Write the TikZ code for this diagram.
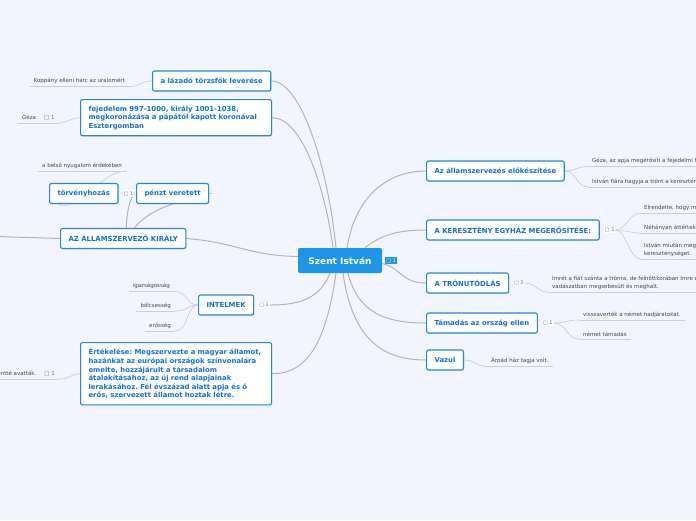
\documentclass[tikz,border=0pt]{standalone}
\usepackage{fontspec}
\setmainfont{DejaVu Sans}
\frenchspacing
\usetikzlibrary{positioning, shadows}
\definecolor{paper}{RGB}{242,245,253}
\definecolor{boxline}{RGB}{38,132,226}
\definecolor{boxtext}{RGB}{20,112,215}
\definecolor{hubblue}{RGB}{30,150,232}
\definecolor{branchgray}{RGB}{180,180,180}
\definecolor{twiggray}{RGB}{206,206,210}
\definecolor{leaftext}{RGB}{70,70,70}
\definecolor{badgetext}{RGB}{80,110,160}
\pgfdeclarelayer{bg}
\pgfdeclarelayer{links}
\pgfsetlayers{bg,links,main}

\begin{document}
\begin{tikzpicture}[x=1pt, y=-1pt,
  box/.style={draw=boxline, line width=1.1pt, fill=white, rounded corners=2pt, text=boxtext,
    font=\fontsize{6.9}{8.6}\selectfont\bfseries, inner xsep=8pt, inner ysep=6pt, minimum height=20pt,
    drop shadow={opacity=0.12, shadow xshift=0.8pt, shadow yshift=-0.8pt}},
  hub/.style={fill=hubblue, rounded corners=2pt, text=white, font=\fontsize{9}{11}\selectfont\bfseries,
    minimum width=84pt, minimum height=25pt},
  leaf/.style={text=leaftext, font=\fontsize{5.5}{7.6}\selectfont, inner xsep=4pt, inner ysep=2.5pt, align=left},
  badge/.style={fill=white, text=badgetext, font=\fontsize{5}{6}\selectfont, inner sep=1pt},
  branch/.style={draw=branchgray, line width=1pt},
  twig/.style={draw=twiggray, line width=0.7pt}]
  \useasboundingbox (0,0) rectangle (696,520);
  \begin{pgfonlayer}{bg}
    \fill[paper] (0,0) rectangle (696,520);
  \end{pgfonlayer}
  \clip (0,0) rectangle (696,520);

  % centre
  \node[hub] (szent) at (340,260.5) {Szent István};
  \node[badge, fill=hubblue, text=white, right=3pt of szent] (szentB) {□ 1};

  % left side
  \node[box, anchor=west] (lazado) at (152,81) {a lázadó törzsfők leverése};
  \node[box, anchor=north west, text width=175pt, align=left] (fejedelem) at (80,99)
    {fejedelem 997-1000, király 1001-1038,\\megkoronázása a pápától kapott koronával\\Esztergomban};
  \node[box, anchor=west] (torveny) at (49,193.5) {törvényhozás};
  \node[badge, right=4pt of torveny] (torvenyB) {□ 1};
  \node[box, anchor=west] (penz) at (136,193.5) {pénzt veretett};
  \node[box, anchor=west] (kiraly) at (60,238.5) {AZ ÁLLAMSZERVEZŐ KIRÁLY};
  \node[box, anchor=west] (intelmek) at (198,305) {INTELMEK};
  \node[badge, right=4pt of intelmek] (intelmekB) {□ 1};
  \node[box, anchor=north west, text width=175pt, align=left] (ertekeles) at (80,342)
    {Értékelése: Megszervezte a magyar államot,\\hazánkat az európai országok színvonalára\\emelte, hozzájárult a társadalom\\átalakításához, az új rend alapjainak\\lerakásához. Fél évszázad alatt apja és ő\\erős, szervezett államot hoztak létre.};

  % right side
  \node[box, anchor=west] (elokeszites) at (426,171) {Az államszervezés előkészítése};
  \node[box, anchor=west] (egyhaz) at (426,230) {A KERESZTÉNY EGYHÁZ MEGERŐSÍTÉSE:};
  \node[badge, right=4pt of egyhaz] (egyhazB) {□ 1};
  \node[box, anchor=west] (tronut) at (426,283) {A TRÓNUTÓDLÁS};
  \node[badge, right=4pt of tronut] (tronutB) {□ 2};
  \node[box, anchor=west] (tamadas) at (426,323) {Támadás az ország ellen};
  \node[badge, right=4pt of tamadas] (tamadasB) {□ 1};
  \node[box, anchor=west] (vazul) at (426,360) {Vazul};

  % leaves
  \node[leaf, anchor=south east] (kopp) at (129,86.5) {Koppány elleni harc az uralomért};
  \node[leaf, anchor=south west] (geza) at (18,123) {Géza\hspace{8pt}{\color{badgetext}□ 1}};
  \node[leaf, anchor=south west] (nyugalom) at (38,171) {a belső nyugalom érdekében};
  \node[leaf, anchor=south east] (igazsag) at (174,291.5) {igazságosság};
  \node[leaf, anchor=south east] (bolcs) at (175,311) {bölcsesség};
  \node[leaf, anchor=south east] (eros) at (175,331) {erősség};
  \node[leaf, anchor=south east] (avatt) at (59,379) {Halála után szentté avatták.\hspace{8pt}{\color{badgetext}□ 1}};
  \node[leaf, anchor=south west] (gezaR) at (588,166.5) {Géza, az apja megerősíti a fejedelmi hatalmat.};
  \node[leaf, anchor=south west] (istvanR) at (588,187) {István fiára hagyja a trónt a kereszténység érdekében.};
  \node[leaf, anchor=south west] (elrendelte) at (640,213) {Elrendelte, hogy minden tíz falu templomot építsen.};
  \node[leaf, anchor=south west] (nehanyan) at (640,233) {Néhányan áttértek a keresztény hitre.};
  \node[leaf, anchor=south west] (megker) at (640,259) {István miután megkeresztelkedett, terjesztette a\\kereszténységet.};
  \node[leaf, anchor=south west] (imret) at (548,292) {Imrét a fiát szánta a trónra, de felnőttkorában Imre egy\\vadászatban megsebesült és meghalt.};
  \node[leaf, anchor=south west] (visszavert) at (579,320) {visszaverték a német hadjáratokat.};
  \node[leaf, anchor=south west] (nemet) at (579,339) {német támadás};
  \node[leaf, anchor=south west] (arpad) at (487,366.5) {Árpád ház tagja volt.};

  \coordinate (kiralyOff) at (-20,236);
  \coordinate (penzEnd) at (213,193.5);

  \begin{pgfonlayer}{links}
    % branches from the centre
    \draw[branch] ([xshift=-4pt]szent.north) .. controls +(-8,-80) and +(30,0) .. (lazado.east);
    \draw[branch] ([xshift=-7pt]szent.north) .. controls +(-8,-60) and +(30,0) .. (fejedelem.east);
    \draw[branch] ([yshift=4pt]szent.west) .. controls +(-50,-1) and +(50,4) .. (kiraly.east);
    \draw[branch] ([xshift=-10pt]szent.south) .. controls +(-10,25) and +(30,0) .. (intelmekB.east);
    \draw[branch] ([xshift=-4pt]szent.south) .. controls +(-10,70) and +(35,0) .. (ertekeles.east);
    \draw[branch] ([xshift=7pt]szent.north) .. controls +(8,-50) and +(-40,0) .. (elokeszites.west);
    \draw[branch] ([xshift=25pt]szent.north) .. controls +(15,-12) and +(-30,0) .. (egyhaz.west);
    \draw[branch] ([yshift=-3pt]szent.east) .. controls +(20,5) and +(-25,0) .. (tronut.west);
    \draw[branch] ([xshift=8pt]szent.south) .. controls +(10,40) and +(-40,0) .. (tamadas.west);
    \draw[branch] ([xshift=3pt]szent.south) .. controls +(10,70) and +(-40,0) .. (vazul.west);

    % under the king
    \draw[branch] (kiraly.west) -- (kiralyOff);
    \draw[branch] ([xshift=3pt]kiraly.north) .. controls +(1,-20) and +(-4,5) .. (torvenyB.east);
    \draw[branch] ([xshift=11pt]kiraly.north) .. controls +(12,-14) and +(-12,4) .. (penz.south);
    \draw[twig] (penz.east) -- (penzEnd);

    % leaf underlines
    \foreach \lf in {kopp,geza,nyugalom,igazsag,bolcs,eros,avatt,gezaR,istvanR,elrendelte,nehanyan,megker,imret,visszavert,nemet,arpad}
      \draw[twig] (\lf.south west) -- (\lf.south east);

    % leaf connectors
    \draw[twig] (kopp.south east) .. controls +(12,0) and +(-12,0) .. (lazado.west);
    \draw[twig] (geza.south east) .. controls +(8,0) and +(-8,0) .. (fejedelem.west);
    \draw[twig] (nyugalom.south east) .. controls +(-30,0) and +(21,37) .. (torveny.west);
    \foreach \lf in {igazsag,bolcs,eros}
      \draw[twig] (\lf.south east) .. controls +(14,0) and +(-12,0) .. (intelmek.west);
    \draw[twig] (avatt.south east) .. controls +(12,0) and +(-10,0) .. (ertekeles.west);
    \foreach \lf in {gezaR,istvanR}
      \draw[twig] (elokeszites.east) .. controls +(12,0) and +(-12,0) .. (\lf.south west);
    \foreach \lf in {elrendelte,nehanyan,megker}
      \draw[twig] (egyhazB.east) .. controls +(10,0) and +(-10,0) .. (\lf.south west);
    \draw[twig] (tronutB.east) .. controls +(12,0) and +(-12,0) .. (imret.south west);
    \foreach \lf in {visszavert,nemet}
      \draw[twig] (tamadasB.east) .. controls +(12,0) and +(-12,0) .. (\lf.south west);
    \draw[twig] (vazul.east) .. controls +(12,0) and +(-12,0) .. (arpad.south west);
  \end{pgfonlayer}
\end{tikzpicture}
\end{document}
